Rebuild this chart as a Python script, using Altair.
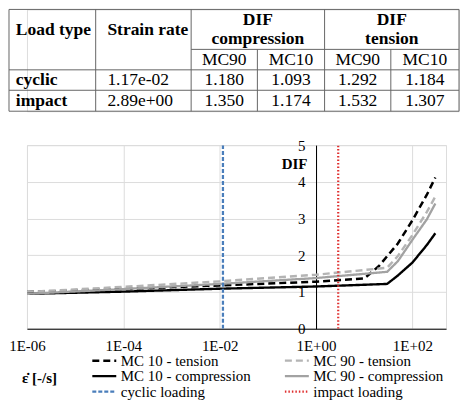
import math
import altair as alt
import pandas as pd

FONT = "Liberation Serif, Times New Roman, serif"

# ---------------- table data ----------------
table_heads = ["Load type", "Strain rate"]
group_heads = [["DIF", "compression"], ["DIF", "tension"]]
sub_heads = ["MC90", "MC10", "MC90", "MC10"]
load_types = ["cyclic", "impact"]
strain_rates = ["1.17e-02", "2.89e+00"]
dif_comp_mc90 = ["1.180", "1.350"]
dif_comp_mc10 = ["1.093", "1.174"]
dif_tens_mc90 = ["1.292", "1.532"]
dif_tens_mc10 = ["1.184", "1.307"]

# ---------------- chart data ----------------
series_order = ["MC 10 - tension", "MC 90 - tension", "MC 10 - compression",
                "MC 90 - compression", "cyclic loading", "impact loading"]

mc10_t_rate = [1e-6, 1e-4, 1e-2, 1, 10, 20, 50, 100, 200, 300]
mc10_t_dif = [1.00, 1.08, 1.18, 1.28, 1.37, 1.70, 2.32, 2.95, 3.65, 4.12]

mc90_t_rate = [1e-6, 1e-4, 1e-2, 1, 30, 40, 50, 100, 200, 300]
mc90_t_dif = [1.00, 1.14, 1.29, 1.47, 1.66, 1.84, 1.98, 2.55, 3.18, 3.60]

mc10_c_rate = [1e-6, 1e-4, 1e-2, 1, 30, 50, 100, 200, 300]
mc10_c_dif = [0.95, 1.01, 1.09, 1.15, 1.22, 1.45, 1.80, 2.28, 2.60]

mc90_c_rate = [1e-6, 1e-4, 1e-2, 1, 30, 50, 100, 200, 300]
mc90_c_dif = [0.95, 1.08, 1.22, 1.38, 1.55, 1.84, 2.42, 2.98, 3.41]

x_ticks = [1e-6, 1e-4, 1e-2, 1, 1e2]
x_domain = [1e-6, 500]
y_ticks = [0, 1, 2, 3, 4, 5]
y_domain = [0, 5]

# ---------------- styles ----------------
colors = ["#000000", "#b4b4b4", "#000000", "#a2a2a2", "#4a7ebb", "#e03030"]
dashes = [[7, 4], [7, 4], [1, 0], [1, 0], [4, 2], [1.5, 2]]
widths = [2.5, 2.2, 2.2, 2.0, 1.6, 1.3]

rows = []
for name, xs_, ys_ in [
    ("MC 10 - tension", mc10_t_rate, mc10_t_dif),
    ("MC 90 - tension", mc90_t_rate, mc90_t_dif),
    ("MC 10 - compression", mc10_c_rate, mc10_c_dif),
    ("MC 90 - compression", mc90_c_rate, mc90_c_dif),
]:
    for xv, yv in zip(xs_, ys_):
        rows.append({"series": name, "strain": xv, "dif": yv})
for name, sr in [("cyclic loading", strain_rates[0]), ("impact loading", strain_rates[1])]:
    for yv in y_domain:
        rows.append({"series": name, "strain": float(sr), "dif": yv})
df = pd.DataFrame(rows)

W, H = 420, 184
lx0, lx1 = math.log10(x_domain[0]), math.log10(x_domain[1])
yaxis_offset = -W * (0 - lx0) / (lx1 - lx0)

leg = alt.Legend(
    title=None, orient="none", legendX=64, legendY=345, direction="horizontal",
    columns=2, symbolType="stroke", symbolSize=576, symbolStrokeWidth=2,
    labelFont=FONT, labelFontSize=15, labelColor="black", labelOffset=3,
    columnPadding=32, rowPadding=0.5, clipHeight=14, padding=0, labelLimit=0,
)

label_expr = ("'1E' + (datum.value < 1 ? '-' : '+') + "
              "(abs(round(log(datum.value)/LN10)) < 10 ? '0' : '') + "
              "abs(round(log(datum.value)/LN10))")

chart = alt.Chart(df).mark_line(clip=True).encode(
    x=alt.X("strain:Q",
            scale=alt.Scale(type="log", domain=x_domain, nice=False),
            axis=alt.Axis(values=x_ticks, labelExpr=label_expr, title="ε̇ [-/s]",
                          titleX=12, titleY=49, titleAlign="center", titleBaseline="middle",
                          titleFont=FONT, titleFontSize=15, titleFontWeight="bold",
                          titleColor="black", labelFont=FONT, labelFontSize=15,
                          labelColor="black", labelPadding=10, ticks=False,
                          domainColor="black", gridColor="#dcdcdc", labelFlush=False)),
    y=alt.Y("dif:Q",
            scale=alt.Scale(domain=y_domain, nice=False),
            axis=alt.Axis(values=y_ticks, offset=yaxis_offset, title="DIF", titleAngle=0,
                          titleX=-22, titleY=18, titleAlign="center", titleBaseline="middle",
                          titleFont=FONT, titleFontSize=15, titleFontWeight="bold",
                          titleColor="black", labelFont=FONT, labelFontSize=15,
                          labelColor="black", labelPadding=11, ticks=False,
                          domainColor="black", gridColor="#dcdcdc")),
    color=alt.Color("series:N", scale=alt.Scale(domain=series_order, range=colors), legend=leg),
    strokeDash=alt.StrokeDash("series:N", scale=alt.Scale(domain=series_order, range=dashes), legend=leg),
    strokeWidth=alt.StrokeWidth("series:N", scale=alt.Scale(domain=series_order, range=widths), legend=None),
).properties(width=W, height=H)

# ---------------- table layout ----------------
col_edges = [0, 89, 187, 255, 324, 392, 462]
row_edges = [0, 42, 63.5, 85, 107]
TW, TH = 433, 102          # plot width from chart origin to table right edge
LEFT_OVERHANG = 18         # px the table reaches left of the shared origin
units_per_px = (col_edges[-1] - col_edges[0]) / (TW + LEFT_OVERHANG)

hlines = [
    (col_edges[0], col_edges[-1], row_edges[0]),
    (col_edges[2], col_edges[-1], row_edges[1]),
    (col_edges[0], col_edges[-1], row_edges[2]),
    (col_edges[0], col_edges[-1], row_edges[3]),
    (col_edges[0], col_edges[-1], row_edges[4]),
]
vlines = [(c, row_edges[0], row_edges[-1]) for c in [col_edges[0], col_edges[1], col_edges[2], col_edges[4], col_edges[6]]]
vlines += [(c, row_edges[1], row_edges[-1]) for c in [col_edges[3], col_edges[5]]]
rules = pd.DataFrame(
    [{"x": a, "x2": b, "y": y, "y2": y} for a, b, y in hlines]
    + [{"x": c, "x2": c, "y": a, "y2": b} for c, a, b in vlines]
)

bold_left, bold_center, norm_left, norm_center = [], [], [], []
pads = [7, 12]
for i, h in enumerate(table_heads):
    bold_left.append({"x": col_edges[i] + pads[i], "y": 22, "t": h})
for g, (a, b) in enumerate(group_heads):
    cx = (col_edges[2 + 2 * g] + col_edges[4 + 2 * g]) / 2
    bold_center.append({"x": cx, "y": 11, "t": a})
    bold_center.append({"x": cx, "y": 31, "t": b})
for j, s in enumerate(sub_heads):
    norm_center.append({"x": (col_edges[2 + j] + col_edges[3 + j]) / 2, "y": 53.5, "t": s})
row_y = [74.5, 96.5]
for r in range(2):
    bold_left.append({"x": col_edges[0] + pads[0], "y": row_y[r], "t": load_types[r]})
    norm_left.append({"x": col_edges[1] + pads[1], "y": row_y[r], "t": strain_rates[r]})
    for j, vals in enumerate([dif_comp_mc90, dif_comp_mc10, dif_tens_mc90, dif_tens_mc10]):
        norm_center.append({"x": (col_edges[2 + j] + col_edges[3 + j]) / 2, "y": row_y[r], "t": vals[r]})

xs = alt.Scale(domain=[col_edges[0] + LEFT_OVERHANG * units_per_px, col_edges[-1]], nice=False, zero=False)
ys = alt.Scale(domain=[row_edges[0], row_edges[-1]], nice=False, zero=False, reverse=True)

rule_layer = alt.Chart(rules).mark_rule(color="#666666", strokeWidth=1).encode(
    x=alt.X("x:Q", scale=xs, axis=None), x2="x2:Q",
    y=alt.Y("y:Q", scale=ys, axis=None), y2="y2:Q",
)


def text_layer(data, align, weight):
    return alt.Chart(pd.DataFrame(data)).mark_text(
        align=align, baseline="middle", font=FONT, fontSize=17.5, fontWeight=weight, color="black"
    ).encode(
        x=alt.X("x:Q", scale=xs, axis=None),
        y=alt.Y("y:Q", scale=ys, axis=None),
        text="t:N",
    )


table = alt.layer(
    rule_layer,
    text_layer(bold_left, "left", "bold"),
    text_layer(bold_center, "center", "bold"),
    text_layer(norm_left, "left", "normal"),
    text_layer(norm_center, "center", "normal"),
).properties(width=TW, height=TH)

final = alt.vconcat(table, chart, spacing=25).properties(padding=0).configure_view(
    stroke=None
).configure(background="white")

final.save("out.html", embed_options={"renderer": "svg", "actions": False})
